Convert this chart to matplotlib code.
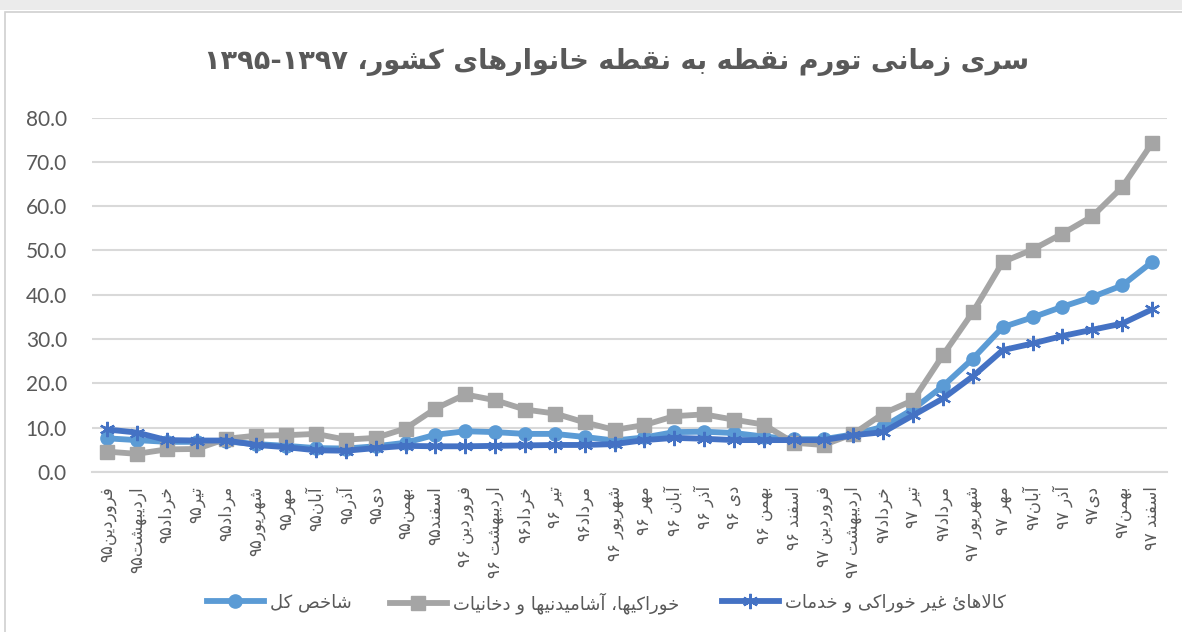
import matplotlib
matplotlib.use('Agg')
import matplotlib.pyplot as plt
from matplotlib.patches import Rectangle

# Persian presentation forms: isolated, final, initial, medial
FORMS = {
    'ا': ('\uFE8D', '\uFE8E', None, None),
    'آ': ('\uFE81', '\uFE82', None, None),
    'ب': ('\uFE8F', '\uFE90', '\uFE91', '\uFE92'),
    'پ': ('\uFB56', '\uFB57', '\uFB58', '\uFB59'),
    'ت': ('\uFE95', '\uFE96', '\uFE97', '\uFE98'),
    'ث': ('\uFE99', '\uFE9A', '\uFE9B', '\uFE9C'),
    'ج': ('\uFE9D', '\uFE9E', '\uFE9F', '\uFEA0'),
    'چ': ('\uFB7A', '\uFB7B', '\uFB7C', '\uFB7D'),
    'ح': ('\uFEA1', '\uFEA2', '\uFEA3', '\uFEA4'),
    'خ': ('\uFEA5', '\uFEA6', '\uFEA7', '\uFEA8'),
    'د': ('\uFEA9', '\uFEAA', None, None),
    'ذ': ('\uFEAB', '\uFEAC', None, None),
    'ر': ('\uFEAD', '\uFEAE', None, None),
    'ز': ('\uFEAF', '\uFEB0', None, None),
    'ژ': ('\uFB8A', '\uFB8B', None, None),
    'س': ('\uFEB1', '\uFEB2', '\uFEB3', '\uFEB4'),
    'ش': ('\uFEB5', '\uFEB6', '\uFEB7', '\uFEB8'),
    'ص': ('\uFEB9', '\uFEBA', '\uFEBB', '\uFEBC'),
    'ض': ('\uFEBD', '\uFEBE', '\uFEBF', '\uFEC0'),
    'ط': ('\uFEC1', '\uFEC2', '\uFEC3', '\uFEC4'),
    'ظ': ('\uFEC5', '\uFEC6', '\uFEC7', '\uFEC8'),
    'ع': ('\uFEC9', '\uFECA', '\uFECB', '\uFECC'),
    'غ': ('\uFECD', '\uFECE', '\uFECF', '\uFED0'),
    'ف': ('\uFED1', '\uFED2', '\uFED3', '\uFED4'),
    'ق': ('\uFED5', '\uFED6', '\uFED7', '\uFED8'),
    'ک': ('\uFB8E', '\uFB8F', '\uFB90', '\uFB91'),
    'گ': ('\uFB92', '\uFB93', '\uFB94', '\uFB95'),
    'ل': ('\uFEDD', '\uFEDE', '\uFEDF', '\uFEE0'),
    'م': ('\uFEE1', '\uFEE2', '\uFEE3', '\uFEE4'),
    'ن': ('\uFEE5', '\uFEE6', '\uFEE7', '\uFEE8'),
    'ه': ('\uFEE9', '\uFEEA', '\uFEEB', '\uFEEC'),
    'و': ('\uFEED', '\uFEEE', None, None),
    'ی': ('\uFBFC', '\uFBFD', '\uFBFE', '\uFBFF'),
    'ئ': ('\uFE89', '\uFE8A', '\uFE8B', '\uFE8C'),
}
LAM_ALEF = {'ا': ('\uFEFB', '\uFEFC'), 'آ': ('\uFEF5', '\uFEF6')}
LTR_CHARS = set('0123456789.-') | set('۰۱۲۳۴۵۶۷۸۹')


def joins_next(c):
    return c in FORMS and FORMS[c][2] is not None


def fa(text):
    # shape letters, then reorder for a right-to-left line
    shaped = []
    i = 0
    while i < len(text):
        c = text[i]
        prev = text[i - 1] if i > 0 else None
        nxt = text[i + 1] if i + 1 < len(text) else None
        if c == 'ل' and nxt in LAM_ALEF:
            shaped.append(LAM_ALEF[nxt][1 if joins_next(prev) else 0])
            i += 2
            continue
        if c in FORMS:
            iso, fin, ini, med = FORMS[c]
            jp = joins_next(prev)
            jn = ini is not None and nxt in FORMS
            if jp and jn:
                g = med
            elif jp:
                g = fin
            elif jn:
                g = ini
            else:
                g = iso
            shaped.append(g)
        else:
            shaped.append(c)
        i += 1
    runs = []
    for ch in shaped:
        is_ltr = ch in LTR_CHARS
        if runs and runs[-1][0] == is_ltr:
            runs[-1][1].append(ch)
        else:
            runs.append([is_ltr, [ch]])
    out = ''
    for is_ltr, chars in reversed(runs):
        out += ''.join(chars) if is_ltr else ''.join(reversed(chars))
    return out


title = 'سری زمانی تورم نقطه به نقطه خانوارهای کشور، ۱۳۹۵-۱۳۹۷'
series_names = ['شاخص کل', 'خوراکیها، آشامیدنیها و دخانیات', 'کالاهائ غیر خوراکی و خدمات']

months = ['فروردین۹۵', 'اردیبهشت۹۵', 'خرداد۹۵', 'تیر۹۵', 'مرداد۹۵', 'شهریور۹۵',
          'مهر۹۵', 'آبان۹۵', 'آذر۹۵', 'دی۹۵', 'بهمن۹۵', 'اسفند۹۵',
          'فروردین ۹۶', 'اردیبهشت ۹۶', 'خرداد۹۶', 'تیر ۹۶', 'مرداد۹۶', 'شهریور ۹۶',
          'مهر ۹۶', 'آبان ۹۶', 'آذر ۹۶', 'دی ۹۶', 'بهمن ۹۶', 'اسفند ۹۶',
          'فروردین ۹۷', 'اردیبهشت ۹۷', 'خرداد۹۷', 'تیر ۹۷', 'مرداد۹۷', 'شهریور ۹۷',
          'مهر ۹۷', 'آبان۹۷', 'آذر ۹۷', 'دی۹۷', 'بهمن۹۷', 'اسفند ۹۷']

overall = [7.6, 7.2, 6.8, 6.8, 6.9, 6.3, 5.9, 5.4, 5.3, 5.8, 6.6, 8.4,
           9.2, 9.0, 8.6, 8.6, 7.9, 7.1, 7.8, 9.0, 9.1, 8.8, 8.0, 7.4,
           7.4, 8.5, 10.2, 14.2, 19.4, 25.6, 32.7, 34.9, 37.3, 39.5, 42.1, 47.4]
food = [4.6, 4.1, 5.1, 5.2, 7.5, 8.2, 8.3, 8.6, 7.3, 7.7, 9.8, 14.3,
        17.5, 16.2, 14.1, 13.2, 11.2, 9.5, 10.6, 12.6, 13.0, 11.8, 10.7, 6.6,
        6.1, 8.6, 13.2, 16.2, 26.4, 36.1, 47.4, 50.2, 53.8, 57.7, 64.3, 74.2]
nonfood = [9.6, 8.9, 7.2, 7.1, 7.1, 6.1, 5.6, 4.9, 4.8, 5.4, 5.9, 5.8,
           5.8, 5.9, 6.0, 6.1, 6.1, 6.3, 7.2, 7.7, 7.5, 7.2, 7.2, 7.2,
           7.2, 8.3, 9.0, 12.8, 16.6, 21.6, 27.5, 29.0, 30.7, 32.1, 33.5, 36.7]

yticks = [0, 10, 20, 30, 40, 50, 60, 70, 80]

fig = plt.figure(figsize=(11.82, 6.32), dpi=100)
W, H = 1182, 632
ax = fig.add_axes([92 / W, (H - 472) / H, (1167 - 92) / W, (472 - 117.5) / H])

x = list(range(len(months)))
l1, = ax.plot(x, overall, color='#5B9BD5', lw=4.2, marker='o', ms=9.5, zorder=3)
l2, = ax.plot(x, food, color='#A5A5A5', lw=4.2, marker='s', ms=9.5, zorder=4)
l3, = ax.plot(x, nonfood, color='#4472C4', lw=4.2, marker=(6, 2, 0), ms=11, mew=1.6,
              mec='#4472C4', zorder=5)

ax.set_xlim(-0.5, len(months) - 0.5)
ax.set_ylim(0, 80)
ax.set_yticks(yticks)
ax.set_yticklabels(['%.1f' % v for v in yticks], fontsize=15, color='#595959', family='Lato')
ax.yaxis.grid(True, color='#D9D9D9', lw=1.5)
ax.set_axisbelow(True)
for s in ['top', 'right', 'left']:
    ax.spines[s].set_visible(False)
ax.spines['bottom'].set_color('#D9D9D9')
ax.spines['bottom'].set_linewidth(1.5)
ax.tick_params(axis='both', length=0)
ax.tick_params(axis='y', pad=18)
ax.set_xticks(x)
ax.set_xticklabels([fa(m) for m in months], rotation=90, fontsize=12, color='#595959')
ax.tick_params(axis='x', pad=10)

fig.text(617 / W, 1 - 62 / H, fa(title), ha='center', va='center', fontsize=19.5,
         fontweight='bold', color='#595959')

# one legend per entry so each sits where it does in the reference
for line, name, x0 in zip([l1, l2, l3], series_names, [207, 390, 722]):
    leg = fig.legend([line], [fa(name)], loc='center left', bbox_to_anchor=(x0 / W, 1 - 603 / H),
                     frameon=False, fontsize=13, handlelength=3.15, handletextpad=0.35,
                     borderpad=0, borderaxespad=0)
    for t in leg.get_texts():
        t.set_color('#595959')

# chart frame and the strip above it
fig.patches.append(Rectangle((5 / W, -0.1), 1.1, 0.1 + (H - 12) / H, transform=fig.transFigure,
                             fill=False, edgecolor='#D0D0D0', lw=1.2))
fig.patches.append(Rectangle((0, (H - 10) / H), 1, 10 / H, transform=fig.transFigure,
                             facecolor='#EBEBEB', edgecolor='none'))

fig.savefig('out.png', dpi=100)
